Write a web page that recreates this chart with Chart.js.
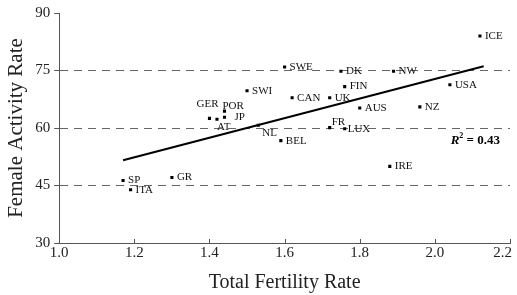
<!DOCTYPE html>
<html>
<head>
<meta charset="utf-8">
<script src="https://cdn.jsdelivr.net/npm/chart.js@4.4.0/dist/chart.umd.min.js"></script>
<style>
  html, body { margin: 0; padding: 0; background: #fff; }
  #wrap { width: 517px; height: 295px; }
</style>
</head>
<body>
<div id="wrap"><canvas id="myChart"></canvas></div>
<script>
const countries = ['ICE','SWE','DK','NW','FIN','USA','CAN','UK','AUS','NZ','FR','LUX','BEL','IRE','NL','SWI','GER','AT','POR','JP','SP','ITA','GR'];
const fertility = [2.12,1.60,1.75,1.89,1.76,2.04,1.62,1.72,1.80,1.96,1.72,1.76,1.59,1.88,1.53,1.50,1.40,1.42,1.44,1.44,1.17,1.19,1.30];
const activity  = [84.0,75.9,74.8,74.8,70.8,71.3,67.9,67.9,65.2,65.5,60.1,59.8,56.7,50.0,60.7,69.7,62.5,62.3,64.4,62.8,46.3,43.9,47.1];
const fitX = [1.17, 2.13];
const fitY = [51.6, 76.1];
const gridValues = [45, 60, 75];
const rSquared = '0.43';

// label placement relative to each dot (default: just right of it)
const labelOffsets = { GER: [-13, -14], POR: [-2, -5], JP: [10, 0], AT: [0, 8], NL: [4, 8], FR: [2, -6], LUX: [3, 0] };
const serif = '"Liberation Serif", "Times New Roman", serif';

const extras = {
  id: 'extras',
  afterDatasetsDraw(chart) {
    const { ctx, chartArea, scales: { x, y } } = chart;
    ctx.save();
    ctx.font = '11px ' + serif;
    ctx.fillStyle = '#111';
    ctx.textBaseline = 'middle';
    ctx.textAlign = 'left';
    countries.forEach((c, i) => {
      const off = labelOffsets[c] || [5, 0];
      ctx.fillText(c, x.getPixelForValue(fertility[i]) + off[0], y.getPixelForValue(activity[i]) + off[1]);
    });

    // small inward ticks on the x axis
    ctx.strokeStyle = '#555';
    ctx.lineWidth = 1;
    x.ticks.forEach((t, i) => {
      const px = Math.round(x.getPixelForTick(i)) + 0.5;
      ctx.beginPath();
      ctx.moveTo(px, chartArea.bottom);
      ctx.lineTo(px, chartArea.bottom - 4);
      ctx.stroke();
    });

    // R^2 note
    let rx = chartArea.right - 10;
    const ry = y.getPixelForValue(56.6);
    ctx.fillStyle = '#000';
    ctx.textAlign = 'right';
    ctx.font = 'bold 13px ' + serif;
    const rest = ' = ' + rSquared;
    ctx.fillText(rest, rx, ry);
    rx -= ctx.measureText(rest).width;
    ctx.font = 'bold 8px ' + serif;
    ctx.fillText('2', rx, ry - 5);
    rx -= ctx.measureText('2').width;
    ctx.font = 'italic bold 13px ' + serif;
    ctx.fillText('R', rx, ry);
    ctx.restore();
  }
};

new Chart('myChart', {
  type: 'scatter',
  data: {
    datasets: [{
      data: fertility.map((v, i) => ({ x: v, y: activity[i] })),
      pointStyle: 'rect',
      pointRadius: 2.2,
      pointBorderWidth: 0,
      backgroundColor: '#000'
    }, {
      type: 'line',
      data: fitX.map((v, i) => ({ x: v, y: fitY[i] })),
      showLine: true,
      borderColor: '#000',
      borderWidth: 2,
      pointRadius: 0,
      fill: false
    }]
  },
  options: {
    responsive: true,
    maintainAspectRatio: false,
    animation: false,
    events: [],
    layout: { padding: { left: 2, top: 10, right: 0, bottom: 0 } },
    plugins: { legend: { display: false }, tooltip: { enabled: false } },
    scales: {
      x: {
        min: 1.0, max: 2.2,
        afterFit: (s) => { s.paddingRight = 7; },
        ticks: {
          stepSize: 0.2, padding: 1, color: '#222', font: { family: serif, size: 15 },
          // last label sits a bit left of its tick, as in the source
          callback: (v) => v > 2.19 ? v.toFixed(1) + '    ' : v.toFixed(1)
        },
        grid: { display: false, drawTicks: false },
        border: { display: true, color: '#555', width: 1 },
        title: { display: true, text: 'Total Fertility Rate', color: '#222', font: { family: serif, size: 20 }, padding: { top: 8, bottom: 0 } }
      },
      y: {
        min: 30, max: 90,
        ticks: { stepSize: 15, padding: 4, color: '#222', font: { family: serif, size: 15 } },
        grid: {
          color: (c) => gridValues.includes(c.tick && c.tick.value) ? '#666' : 'rgba(0,0,0,0)',
          tickColor: '#555',
          tickLength: 5,
          lineWidth: 1
        },
        border: { display: true, color: '#555', width: 1, dash: [8, 6] },
        title: { display: true, text: 'Female Activity Rate', color: '#222', font: { family: serif, size: 21 }, padding: { top: 2, bottom: 2 } }
      }
    }
  },
  plugins: [extras]
});
</script>
</body>
</html>
